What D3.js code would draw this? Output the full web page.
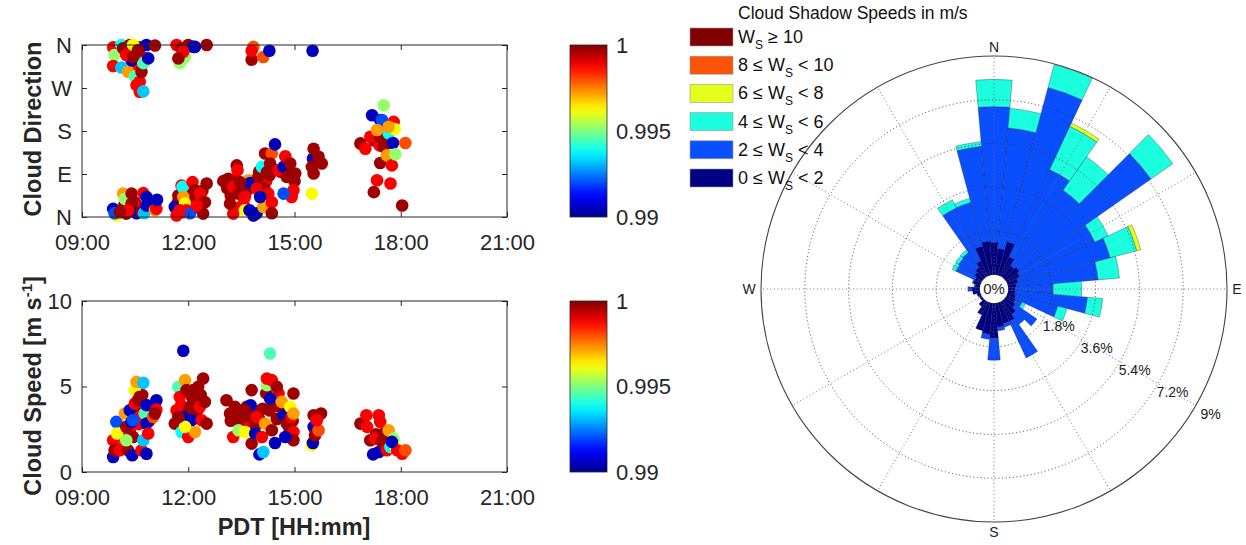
<!DOCTYPE html>
<html>
<head>
<meta charset="utf-8">
<script src="https://cdn.jsdelivr.net/npm/d3@7"></script>
<style>
  body { margin: 0; background: #fff; }
  text { font-family: "Liberation Sans", Arial, Helvetica, sans-serif; }
</style>
</head>
<body>
<svg id="chart" width="1246" height="545"></svg>
<script>
// ---- cloud direction vs time (hours PDT, degrees, correlation) ----
var dirTime = [10.2,10.3,10.5,10.55,10.65,10.7,10.45,
  10.2,10.35,10.5,10.6,
  11.7,11.9,12.0,12.1,12.3,12.4,11.85,
  13.1,13.35,13.5,13.65,13.9,14.0,14.1,14.2,14.3,14.4,13.45,14.15,13.2,
  14.6,14.8,15.0,
  17.25,17.4,17.55,17.6,17.45,
  9.88,9.92,9.88,10.11,10.11,10.16,10.30,10.35,10.40,10.44,10.49,10.54,10.63,10.63,10.73,10.68,10.73,10.82,10.87,11.06,10.58,10.25,10.44,
  11.67,11.76,11.91,11.81,12.00,12.14,11.86,12.52,12.19,11.72,
  13.79,13.84,13.79,14.12,14.29,15.51,
  9.88,9.97,9.92,10.16,10.21,10.25,10.40,10.40,10.54,10.68,10.73,10.75,10.82,10.82,11.06,11.10,11.12,10.30,10.07,
  11.62,11.72,11.81,11.84,11.86,11.91,11.95,12.05,12.12,12.19,12.28,12.33,12.42,12.52,12.47,11.67,11.76,12.24,
  12.99,13.13,13.27,13.27,13.37,13.39,13.42,13.56,13.60,13.70,13.75,13.73,13.84,13.93,13.93,13.98,14.08,14.12,14.17,14.22,14.26,14.36,14.36,14.36,14.45,14.31,13.46,13.18,13.60,14.03,
  14.55,14.69,14.74,14.78,14.88,14.92,14.97,14.97,14.69,15.02,
  15.49,15.52,15.54,15.54,15.68,15.77,15.49,
  16.86,17.00,17.14,17.19,17.24,17.33,17.42,17.42,17.42,17.47,17.52,17.52,17.61,17.66,17.71,17.75,17.78,17.80,17.83,17.85,18.04,18.13,17.33,17.66];
var dirDeg = [345,355,340,320,355,335,310,
  25,40,30,20,
  30,50,35,45,20,55,10,
  60,75,60,55,70,95,85,75,88,100,20,60,45,
  95,100,75,
  160,150,160,190,175,
  355,339,316,360,313,353,304,360,328,360,294,276,283,262,263,304,322,360,332,359,349,339,335,
  360,322,335,353,360,356,346,360,356,332,
  329,356,348,335,348,348,
  17,3,8,49,38,7,49,28,8,10,50,8,42,24,14,17,36,14,10,
  21,45,66,63,42,28,14,8,73,56,35,49,7,70,31,3,14,24,
  75,80,63,7,108,98,49,28,14,77,71,14,3,8,59,84,105,21,133,94,49,133,31,8,152,112,73,28,42,42,
  98,105,127,84,112,42,56,84,49,91,
  49,122,143,91,126,112,105,
  154,143,168,213,52,77,203,168,113,203,234,147,129,175,70,108,155,199,184,131,24,155,182,189];
var dirCorr = [.9997,.9988,.9997,.9997,.9997,.9988,.9988,
  .9997,.9988,.9997,.9988,
  .9997,.9997,.9997,.9997,.9997,.9997,.9988,
  .9997,.9997,.9997,.9997,.9997,.9997,.9997,.9988,.9997,.9997,.9988,.9997,.9997,
  .9997,.9997,.9997,
  .9997,.9988,.9997,.9988,.9997,
  .9988,.9952,.9988,.9938,.9932,.9997,.9972,.9997,.9905,.9963,.9945,.9988,.9988,.9988,.9932,.9997,.9945,.9905,.9905,.9997,.9997,.9988,.9997,
  .9988,.9952,.9952,.9997,.9997,.9905,.9988,.9997,.9905,.9997,
  .9997,.998,.9988,.998,.9905,.9905,
  .9905,.9963,.992,.9972,.9952,.9997,.9997,.9997,.9905,.9997,.9988,.9932,.9905,.9905,.9972,.9988,.9905,.9988,.9997,
  .9905,.9997,.9988,.9938,.9972,.9963,.9988,.992,.9988,.9997,.9997,.9988,.9997,.9997,.9997,.9988,.9988,.9988,
  .9997,.9997,.9988,.9988,.9997,.9988,.9997,.9988,.9963,.9972,.9905,.9905,.9905,.9905,.9988,.9997,.9938,.9972,.9997,.9997,.9988,.998,.9988,.9997,.9905,.9997,.9997,.9997,.9988,.9905,
  .9988,.9905,.9988,.9997,.9997,.9988,.9988,.9997,.992,.9997,
  .9963,.9905,.9997,.9997,.9997,.9997,.9997,
  .9997,.9988,.9988,.9905,.9997,.9988,.9905,.9997,.9997,.992,.9952,.9997,.9972,.9938,.9988,.9988,.9905,.9988,.9963,.9952,.9997,.998,.9972,.9972];

// ---- cloud speed vs time (hours PDT, m/s, correlation) ----
var spdTime = [10.2,10.35,10.5,10.6,10.7,10.9,
  11.7,11.8,12.0,12.1,12.25,12.35,11.95,12.15,
  13.2,13.4,13.5,13.7,13.85,14.0,14.1,14.2,14.3,14.4,14.5,14.55,13.3,13.9,
  14.85,14.95,
  17.3,17.5,17.6,17.7,
  9.88,9.88,9.92,9.97,9.99,10.07,10.16,10.21,10.25,10.30,10.35,10.40,10.42,10.44,10.49,10.49,10.54,10.58,10.63,10.63,10.68,10.73,10.73,10.77,10.82,10.82,10.82,10.87,11.01,11.10,11.10,11.06,10.25,10.44,
  11.86,11.72,11.91,11.62,11.67,11.76,11.81,11.86,11.95,12.00,12.05,12.09,12.14,12.19,12.24,12.28,12.33,12.38,12.42,12.47,12.52,11.91,11.72,
  13.08,13.18,13.27,13.32,13.42,13.51,13.60,13.65,13.75,13.76,13.79,13.79,13.89,13.93,14.01,14.08,14.12,14.17,14.22,14.22,14.31,14.36,14.36,14.45,14.50,14.59,14.64,14.69,13.60,14.31,
  14.78,14.88,14.92,14.97,14.97,14.97,14.97,14.74,
  15.49,15.52,15.54,15.54,15.58,15.68,15.75,15.63,
  16.86,17.03,17.05,17.14,17.22,17.28,17.38,17.42,17.38,17.47,17.52,17.61,17.66,17.71,17.80,17.85,17.90,18.04,18.13,17.75];
var spdVal = [2.0,2.4,3.6,2.8,4.5,3.0,
  3.0,3.9,3.5,4.4,3.6,4.5,3.0,3.3,
  3.0,3.6,2.8,3.0,3.6,3.1,3.7,4.6,3.6,4.0,3.1,4.6,3.3,2.7,
  2.6,3.0,
  2.2,1.9,1.6,2.0,
  0.88,1.86,1.27,2.93,2.25,1.27,1.46,3.42,2.64,1.27,3.61,2.93,0.98,2.05,4.0,4.79,5.27,4.2,4.4,3.22,1.27,5.21,1.86,3.42,3.91,2.83,1.07,2.25,3.22,4.2,3.65,3.42,1.86,3.03,
  7.09,4.98,5.37,2.83,3.61,4.39,2.34,3.22,4.79,2.05,3.81,3.03,4.79,2.34,4.0,4.98,3.81,3.03,5.47,4.1,2.83,2.64,3.22,
  4.2,3.42,2.05,3.81,2.44,3.22,2.34,3.81,3.22,3.9,4.79,1.66,2.25,3.22,1.03,2.05,1.17,2.83,5.08,5.47,4.3,5.37,2.44,1.7,4.98,3.81,4.1,3.32,3.61,6.93,
  2.83,3.81,3.22,3.42,4.59,2.34,1.86,2.05,
  1.56,1.7,3.32,2.64,2.15,2.44,3.42,3.03,
  2.83,3.32,2.64,1.86,1.03,1.95,3.32,2.93,1.17,1.76,2.25,1.27,2.44,1.46,1.95,1.46,1.27,1.07,1.27,1.76];
var spdCorr = [.9997,.9988,.9997,.9988,.9997,.9997,
  .9997,.9988,.9997,.9997,.9997,.9997,.9988,.9997,
  .9997,.9997,.9997,.9988,.9997,.9997,.9997,.9997,.9997,.9997,.9997,.9988,.9997,.9997,
  .9997,.9997,
  .9997,.9988,.9997,.9997,
  .9905,.9988,.9997,.992,.9963,.9988,.9988,.9972,.9997,.9997,.9905,.9905,.9905,.9997,.9988,.9963,.9972,.9997,.9997,.9988,.9988,.9932,.9932,.9945,.9905,.9905,.9905,.9988,.998,.9905,.9988,.9997,.9952,.992,
  .9905,.9945,.9972,.9997,.9988,.9988,.9938,.9905,.9997,.9988,.9997,.9905,.9997,.9972,.9997,.9997,.9988,.9988,.9997,.9997,.9997,.9963,.9997,
  .9997,.9997,.9988,.9997,.9952,.9997,.9963,.9997,.9997,.9905,.9997,.9997,.9905,.9988,.9905,.9988,.9932,.9972,.9952,.9988,.9905,.9988,.9997,.9905,.9997,.9997,.9972,.9905,.9997,.9945,
  .9997,.9963,.9988,.9972,.9997,.9988,.9997,.9905,
  .9963,.9905,.9997,.9905,.9997,.998,.9997,.9988,
  .9997,.9988,.9988,.9997,.9905,.9988,.9988,.9988,.9905,.9997,.9997,.9988,.9972,.9938,.9952,.9963,.9988,.9988,.998,.9905];

var timeTicks = [9, 12, 15, 18, 21];
var timeTickLabels = ['09:00', '12:00', '15:00', '18:00', '21:00'];
var dirTicks = [0, 90, 180, 270, 360];
var dirTickLabels = ['N', 'E', 'S', 'W', 'N'];
var spdTicks = [0, 5, 10];
var corrTicks = [0.99, 0.995, 1];
var corrTickLabels = ['0.99', '0.995', '1'];

// ---- wind rose: % frequency per 10 degree sector, by speed class ----
var roseDir = d3.range(0, 360, 10);
var roseClassColors = ['#000082', '#0a4fff', '#1cffdf', '#e4ff1a', '#fb5408', '#800000'];
var rose0to2 = [1.35,1.1,1.45,0.9,0.6,0.7,0.6,0.45,0.35,0.3,0.3,0.35,0.4,0.5,0.7,0.9,0.9,1.0,1.45,1.3,1.2,0.6,0.3,0.1,0.1,0.15,0.3,0.35,0.2,0.3,0.3,0.4,0.5,0.7,1.25,1.4];
var rose2to4 = [5.57,4.97,6.55,3.94,3.78,6.6,3.4,3.92,3.37,1.56,2.98,1.79,0.3,1.08,0.5,1.65,0.15,0.15,0.9,0.2,0,0,0,0,0,0,0,0.15,0.05,0.05,0.85,0.8,0.75,2.4,1.86,3.91];
var rose4to6 = [1.12,0.81,0.98,1.96,1.68,1.1,0.6,1.13,0.88,1.17,0.63,0.39,0.15,0,0,0,0,0,0,0,0,0,0,0,0,0,0,0,0,0,0.17,0.15,0.13,0.37,0.17,0.19];
var rose6to8 = [0,0,0,0.15,0,0,0,0.17,0,0,0,0,0,0,0,0,0,0,0,0,0,0,0,0,0,0,0,0,0,0,0,0,0,0,0,0];
var rose8to10 = roseDir.map(function() { return 0; });
var rose10up = roseDir.map(function() { return 0; });
var roseRings = [1.8, 3.6, 5.4, 7.2, 9];

var svg = d3.select('#chart');
var axisColor = '#262626';

// MATLAB-like jet colormap
var jet = d3.scaleLinear()
    .domain([0.99, 0.99125, 0.99375, 0.99625, 0.99875, 1])
    .range(['#00008f', '#0000ff', '#00ffff', '#ffff00', '#ff0000', '#800000'])
    .clamp(true);

var xScale = d3.scaleLinear().domain([9, 21]).range([82, 507]);

function drawPanel(yScale, yTicks, yLabels, times, vals, corr) {
  let top = yScale.range()[1], bottom = yScale.range()[0];
  let g = svg.append('g');

  g.selectAll('circle.pt')
    .data(times.map(function(t, i) { return [t, vals[i], corr[i]]; }))
    .enter().append('circle')
      .attr('class', 'pt')
      .attr('cx', function(d) { return xScale(d[0]); })
      .attr('cy', function(d) { return yScale(d[1]); })
      .attr('r', 6.3)
      .attr('fill', function(d) { return jet(d[2]); });

  g.append('rect')
      .attr('x', 82).attr('y', top)
      .attr('width', 425).attr('height', bottom - top)
      .attr('fill', 'none').attr('stroke', axisColor).attr('stroke-width', 1);

  let xb = d3.axisBottom(xScale).tickValues(timeTicks)
      .tickFormat(function(d, i) { return timeTickLabels[i]; })
      .tickSize(-5).tickPadding(17);
  let xt = d3.axisTop(xScale).tickValues(timeTicks).tickFormat('').tickSize(-5);
  let yl = d3.axisLeft(yScale).tickValues(yTicks)
      .tickFormat(function(d, i) { return yLabels[i]; })
      .tickSize(-5).tickPadding(10);
  let yr = d3.axisRight(yScale).tickValues(yTicks).tickFormat('').tickSize(-5);

  let axes = [
    [xb, 'translate(0,' + bottom + ')'],
    [xt, 'translate(0,' + top + ')'],
    [yl, 'translate(82,0)'],
    [yr, 'translate(507,0)']
  ];
  axes.forEach(function(a) {
    let ag = g.append('g').attr('transform', a[1]).call(a[0]);
    ag.select('.domain').remove();
    ag.selectAll('line').attr('stroke', axisColor);
    ag.selectAll('text')
      .attr('fill', axisColor)
      .style('font-size', '22px')
      .style('font-family', '"Liberation Sans", Arial, sans-serif');
  });
  return g;
}

function drawColorbar(top, bottom) {
  let id = 'jetgrad' + top;
  let grad = svg.append('defs').append('linearGradient')
      .attr('id', id).attr('x1', 0).attr('y1', 1).attr('x2', 0).attr('y2', 0);
  grad.selectAll('stop')
    .data(d3.range(0, 1.0001, 0.05))
    .enter().append('stop')
      .attr('offset', function(d) { return (d * 100) + '%'; })
      .attr('stop-color', function(d) { return jet(0.99 + d * 0.01); });
  let cScale = d3.scaleLinear().domain([0.99, 1]).range([bottom, top]);
  svg.append('rect')
      .attr('x', 570).attr('y', top)
      .attr('width', 37).attr('height', bottom - top)
      .attr('fill', 'url(#' + id + ')')
      .attr('stroke', axisColor).attr('stroke-width', 0.8);
  svg.selectAll(null)
    .data(corrTicks)
    .enter().append('text')
      .attr('x', 616)
      .attr('y', function(d) { return cScale(d); })
      .attr('dy', '0.36em')
      .attr('fill', axisColor)
      .style('font-size', '22px')
      .text(function(d, i) { return corrTickLabels[i]; });
}

// top panel: direction
var yDir = d3.scaleLinear().domain([0, 360]).range([217, 45]);
drawPanel(yDir, dirTicks, dirTickLabels, dirTime, dirDeg, dirCorr);
drawColorbar(45, 217);

// bottom panel: speed
var ySpd = d3.scaleLinear().domain([0, 10]).range([472, 301]);
drawPanel(ySpd, spdTicks, spdTicks.map(String), spdTime, spdVal, spdCorr);
drawColorbar(301, 472);

// axis titles
svg.append('text')
    .attr('transform', 'translate(41,129) rotate(-90)')
    .attr('text-anchor', 'middle')
    .attr('fill', axisColor)
    .style('font-size', '23.5px').style('font-weight', 'bold')
    .text('Cloud Direction');

var spdLab = svg.append('text')
    .attr('transform', 'translate(41,386) rotate(-90)')
    .attr('text-anchor', 'middle')
    .attr('fill', axisColor)
    .style('font-size', '23.5px').style('font-weight', 'bold');
spdLab.append('tspan').text('Cloud Speed [m s');
spdLab.append('tspan').attr('dy', '-9').style('font-size', '15px').text('-1');
spdLab.append('tspan').attr('dy', '9').text(']');

svg.append('text')
    .attr('x', 294).attr('y', 535)
    .attr('text-anchor', 'middle')
    .attr('fill', axisColor)
    .style('font-size', '23.5px').style('font-weight', 'bold')
    .text('PDT [HH:mm]');

// ---- wind rose ----
var cx = 994, cy = 289;
var rScale = d3.scaleLinear().domain([0, 9]).range([14, 233]);
var rose = svg.append('g').attr('transform', 'translate(' + cx + ',' + cy + ')');

var roseTable = roseDir.map(function(dir, i) {
  return {dir: dir, c0: rose0to2[i], c1: rose2to4[i], c2: rose4to6[i],
          c3: rose6to8[i], c4: rose8to10[i], c5: rose10up[i]};
});
var stack = d3.stack().keys(['c0', 'c1', 'c2', 'c3', 'c4', 'c5']);
var series = stack(roseTable);
var arc = d3.arc();
var rad = Math.PI / 180;

series.forEach(function(s, k) {
  rose.selectAll(null)
    .data(s.filter(function(d) { return d[1] - d[0] > 0; }))
    .enter().append('path')
      .attr('d', function(d) {
        return arc({
          innerRadius: rScale(d[0]),
          outerRadius: rScale(d[1]),
          startAngle: (d.data.dir - 5) * rad,
          endAngle: (d.data.dir + 5) * rad
        });
      })
      .attr('fill', roseClassColors[k])
      .attr('stroke', '#1b1b40')
      .attr('stroke-opacity', 0.55)
      .attr('stroke-width', 0.6);
});

// spokes every 30 degrees
rose.selectAll('line.spoke')
  .data(d3.range(0, 360, 30))
  .enter().append('line')
    .attr('class', 'spoke')
    .attr('x1', function(d) { return rScale(0) * Math.sin(d * rad); })
    .attr('y1', function(d) { return -rScale(0) * Math.cos(d * rad); })
    .attr('x2', function(d) { return rScale(9) * Math.sin(d * rad); })
    .attr('y2', function(d) { return -rScale(9) * Math.cos(d * rad); })
    .attr('stroke', '#666').attr('stroke-width', 0.9)
    .attr('stroke-dasharray', '1,2.6');

// rings
rose.selectAll('circle.ring')
  .data(roseRings.slice(0, -1))
  .enter().append('circle')
    .attr('class', 'ring')
    .attr('r', function(d) { return rScale(d); })
    .attr('fill', 'none')
    .attr('stroke', '#333').attr('stroke-width', 0.9)
    .attr('stroke-dasharray', '1,2.6');
rose.append('circle')
    .attr('r', rScale(9))
    .attr('fill', 'none')
    .attr('stroke', '#444').attr('stroke-width', 1.1);

// centre
rose.append('circle').attr('r', rScale(0)).attr('fill', '#fff');
rose.append('text')
    .attr('text-anchor', 'middle').attr('dy', '0.36em')
    .attr('fill', '#222')
    .style('font-size', '15px')
    .text('0%');

// ring labels along 120 degrees
rose.selectAll('text.ringlab')
  .data(roseRings)
  .enter().append('text')
    .attr('class', 'ringlab')
    .attr('x', function(d) { return (rScale(d) + 17) * Math.sin(120 * rad); })
    .attr('y', function(d) { return -(rScale(d) + 17) * Math.cos(120 * rad); })
    .attr('text-anchor', 'middle').attr('dy', '0.36em')
    .attr('fill', '#222')
    .style('font-size', '14px')
    .text(function(d) { return d + '%'; });

// compass labels
var compass = [['N', 0, -242], ['S', 0, 243], ['W', -245, 0], ['E', 243, 0]];
rose.selectAll('text.cmp')
  .data(compass)
  .enter().append('text')
    .attr('class', 'cmp')
    .attr('x', function(d) { return d[1]; })
    .attr('y', function(d) { return d[2]; })
    .attr('text-anchor', 'middle').attr('dy', '0.36em')
    .attr('fill', '#222')
    .style('font-size', '14px')
    .text(function(d) { return d[0]; });

// ---- legend ----
var legendRows = [
  {k: 5, pre: '', post: ' \u2265 10'},
  {k: 4, pre: '8 \u2264 ', post: ' < 10'},
  {k: 3, pre: '6 \u2264 ', post: ' < 8'},
  {k: 2, pre: '4 \u2264 ', post: ' < 6'},
  {k: 1, pre: '2 \u2264 ', post: ' < 4'},
  {k: 0, pre: '0 \u2264 ', post: ' < 2'}
];
svg.append('text')
    .attr('x', 738).attr('y', 19)
    .attr('fill', '#111')
    .style('font-size', '17.5px')
    .text('Cloud Shadow Speeds in m/s');

var leg = svg.selectAll('g.leg')
  .data(legendRows)
  .enter().append('g')
    .attr('class', 'leg')
    .attr('transform', function(d, i) { return 'translate(690,' + (37 + i * 28.2) + ')'; });
leg.append('rect')
    .attr('x', 0).attr('y', -9)
    .attr('width', 43).attr('height', 18)
    .attr('fill', function(d) { return roseClassColors[d.k]; })
    .attr('stroke', '#999').attr('stroke-width', 0.6);
var lt = leg.append('text')
    .attr('x', 48).attr('y', 6)
    .attr('fill', '#111')
    .style('font-size', '18px');
lt.append('tspan').text(function(d) { return d.pre + 'W'; });
lt.append('tspan').attr('dy', 6).style('font-size', '12px').text('S');
lt.append('tspan').attr('dy', -6).text(function(d) { return d.post; });
</script>
</body>
</html>
